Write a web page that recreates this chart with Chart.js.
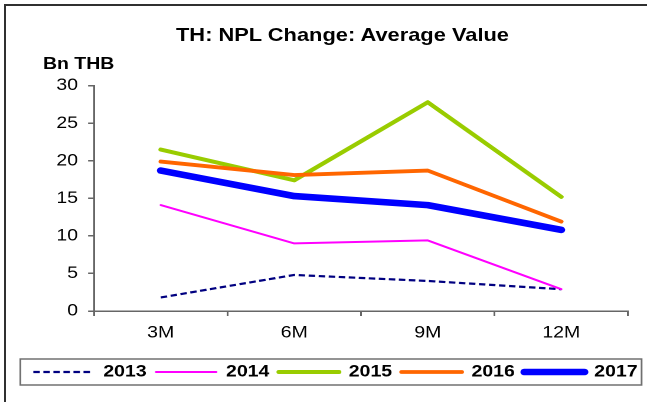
<!DOCTYPE html>
<html>
<head>
<meta charset="utf-8">
<script src="https://cdn.jsdelivr.net/npm/chart.js@4.4.1/dist/chart.umd.min.js"></script>
<style>
  html, body { margin: 0; padding: 0; background: #fff; overflow: hidden; }
  body { width: 647px; height: 402px; position: relative; font-family: "Liberation Sans", Arial, sans-serif; color: #000; }
  #frame { position: absolute; left: 4px; top: 4px; width: 700px; height: 500px;
           border-top: 2px solid #303030; border-left: 2px solid #303030; }
  /* the whole chart is drawn a bit narrow and widened, like the original export */
  #stage { position: absolute; left: 0; top: 0; width: 548px; height: 402px;
           transform: scaleX(1.1807); transform-origin: 0 0; }
  #title { position: absolute; left: 90.1px; width: 400px; top: 25px; text-align: center;
           font-weight: bold; font-size: 18.5px; line-height: 20px; }
  #unit { position: absolute; left: 36.4px; top: 53.6px; font-weight: bold; font-size: 16.5px; line-height: 18px; }
  #npl { position: absolute; left: 0; top: 0; }
</style>
</head>
<body>
<div id="frame"></div>
<div id="stage">
  <canvas id="npl" width="548" height="402"></canvas>
  <div id="title">TH: NPL Change: Average Value</div>
  <div id="unit">Bn THB</div>
</div>
<script>
// periods and yearly averages (Bn THB)
const periods = ["3M", "6M", "9M", "12M"];
const seriesNames = ["2013", "2014", "2015", "2016", "2017"];
const avg2013 = [1.8, 4.8, 4.0, 2.9];
const avg2014 = [14.1, 9.0, 9.4, 2.9];
const avg2015 = [21.5, 17.4, 27.8, 15.2];
const avg2016 = [19.9, 18.1, 18.7, 11.9];
const avg2017 = [18.7, 15.3, 14.1, 10.8];
const yMin = 0, yMax = 30, yStep = 5;

const font = "'Liberation Sans', Arial, sans-serif";
const axisGray = "#666";

const lineStyles = [
  { color: "#000080", width: 2.2, dash: [5.5, 3], cap: "butt" },
  { color: "#FF00FF", width: 2,   dash: [],       cap: "round" },
  { color: "#99CC00", width: 4,   dash: [],       cap: "round" },
  { color: "#FF6600", width: 3.8, dash: [],       cap: "round" },
  { color: "#0000FF", width: 6.6, dash: [],       cap: "round" }
];
const values = [avg2013, avg2014, avg2015, avg2016, avg2017];

const datasets = seriesNames.map((name, i) => ({
  label: name,
  data: values[i],
  borderColor: lineStyles[i].color,
  backgroundColor: lineStyles[i].color,
  borderWidth: lineStyles[i].width,
  borderDash: lineStyles[i].dash,
  borderCapStyle: lineStyles[i].cap,
  borderJoinStyle: "round",
  pointRadius: 0,
  tension: 0,
  fill: false,
  order: seriesNames.length - i   // later years on top
}));

// box around the legend row
const legendFrame = {
  id: "legendFrame",
  afterDraw(chart) {
    const hb = chart.legend.legendHitBoxes;
    if (!hb || !hb.length) return;
    const first = hb[0], last = hb[hb.length - 1];
    const cy = first.top + first.height / 2;
    const ctx = chart.ctx;
    ctx.save();
    ctx.strokeStyle = "#707070";
    ctx.lineWidth = 1.5;
    const x0 = first.left - 11, x1 = last.left + last.width + 3.4;
    ctx.strokeRect(x0, cy - 13, x1 - x0, 26);
    ctx.restore();
  }
};

new Chart(document.getElementById("npl"), {
  type: "line",
  data: { labels: periods, datasets },
  options: {
    responsive: false,
    devicePixelRatio: 2,
    animation: false,
    layout: { padding: { top: 85.7, left: 20.2, right: 0, bottom: 11.75 } },
    scales: {
      x: {
        offset: true,
        grid: { offset: true, drawOnChartArea: false, tickLength: 5, color: axisGray, lineWidth: 1.5 },
        border: { color: axisGray, width: 1.5 },
        ticks: { color: "#000", padding: 7, font: { family: font, size: 16.5 } },
        afterFit(s) { s.height = 44.75; }
      },
      y: {
        min: yMin, max: yMax,
        grid: { drawOnChartArea: false, tickLength: 5, color: axisGray, lineWidth: 1.5 },
        border: { color: axisGray, width: 1.5 },
        ticks: { stepSize: yStep, color: "#000", padding: 8.5, font: { family: font, size: 16.5 } },
        afterFit(s) { s.width = 59.4; }
      },
      // empty strip on the right so the legend can use the full width
      yRight: {
        position: "right",
        display: true,
        grid: { display: false },
        border: { display: false },
        ticks: { display: false },
        afterFit(s) { s.width = 16.1; }
      }
    },
    plugins: {
      title: { display: false },
      tooltip: { enabled: false },
      legend: {
        position: "bottom",
        labels: {
          usePointStyle: true,
          pointStyle: "line",
          pointStyleWidth: 51,
          padding: 8,
          color: "#000",
          font: { family: font, size: 16.5, weight: "bold" },
          generateLabels(chart) {
            return chart.data.datasets.map((ds, i) => ({
              text: ds.label,
              fillStyle: "rgba(0,0,0,0)",
              strokeStyle: ds.borderColor,
              lineWidth: ds.borderWidth,
              lineDash: ds.borderDash,
              lineCap: ds.borderCapStyle,
              pointStyle: "line",
              hidden: false,
              datasetIndex: i
            }));
          }
        }
      }
    }
  },
  plugins: [legendFrame]
});
</script>
</body>
</html>
